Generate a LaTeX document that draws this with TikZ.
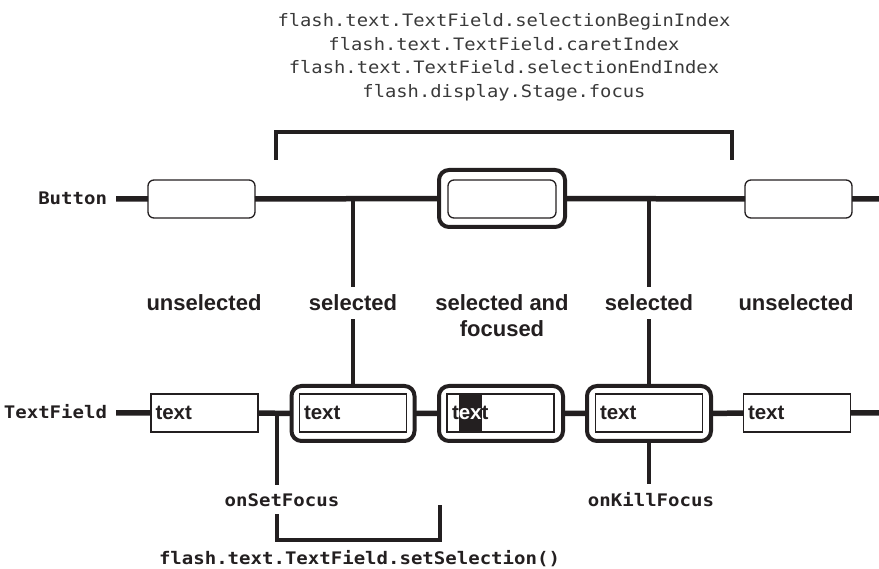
\documentclass[tikz,border=0pt]{standalone}
\usepackage{fontspec}
\setmainfont{Liberation Sans}
\newfontfamily\codefont[FakeStretch=1.1]{DejaVu Sans Mono}
\usetikzlibrary{backgrounds}
\definecolor{ink}{HTML}{231F20}
\definecolor{note}{HTML}{3A3A3A}

\begin{document}
\begin{tikzpicture}[x=1pt,y=-1pt,
  every node/.style={inner sep=0pt, outer sep=0pt},
  track/.style={draw=ink, line width=5.5pt},
  stem/.style={draw=ink, line width=4pt},
  brace/.style={draw=ink, line width=4pt},
  btnbox/.style={draw=ink, line width=1.3pt, rounded corners=6pt,
    minimum width=107pt, minimum height=38pt},
  fieldbox/.style={draw=ink, line width=1.3pt, minimum height=38pt,
    text width=98pt, inner xsep=4.5pt, align=left,
    font=\fontsize{20.5}{24}\selectfont\bfseries, text=ink},
  ring/.style={draw=ink, line width=4pt, rounded corners=10pt},
  code/.style={font=\codefont\fontsize{17.3}{20}\selectfont\bfseries, text=ink},
  event/.style={code, inner ysep=8pt},
  api/.style={font=\codefont\fontsize{17.1}{20}\selectfont, text=note},
  state/.style={font=\fontsize{22}{26}\selectfont\bfseries, text=ink,
    align=center, inner ysep=8pt},
  fieldtext/.style={font=\fontsize{20.5}{24}\selectfont\bfseries, text=ink},
]
\useasboundingbox (0,0) rectangle (879,569);

% property list and its bracket
\node[api, anchor=base] (p1) at (504,27) {flash.text.TextField.selectionBeginIndex};
\node[api, anchor=base] (p2) at (504,50.5) {flash.text.TextField.caretIndex};
\node[api, anchor=base] (p3) at (504,74) {flash.text.TextField.selectionEndIndex};
\node[api, anchor=base] (p4) at (504,97.5) {flash.display.Stage.focus};
\coordinate (tbl) at (276,160);
\coordinate (tbr) at (732,160);
\coordinate (tbtop) at (504,132);
\draw[brace] (tbl) |- (tbtop) -| (tbr);

% Button row
\node[code, anchor=base east] (btn) at (107,205) {Button};
\coordinate (bstart) at (116,199);
\coordinate (bend) at (879,199);
\node[btnbox] (bb1) at (201.5,199) {};
\node[ring, minimum width=126pt, minimum height=57pt] (bb2) at (502,198.5) {};
\node[btnbox, minimum width=108pt] (bb2i) at (502,199) {};
\node[btnbox] (bb3) at (798.5,199) {};
\draw[track] (bstart) -- (bb1.west) (bb1.east) -- (bb2.west)
  (bb2.east) -- (bb3.west) (bb3.east) -- (bend);

% state labels (a two-line node sits on its last baseline)
\node[state, anchor=base] (st1) at (204,311) {unselected};
\node[state, anchor=base] (st2) at (353,311) {selected};
\node[state, anchor=base] (st3) at (502,337) {selected and\\focused};
\node[state, anchor=base] (st4) at (649,311) {selected};
\node[state, anchor=base] (st5) at (796,311) {unselected};

% TextField row
\node[code, anchor=base east] (tf) at (107,419) {TextField};
\coordinate (tstart) at (116,413);
\coordinate (tend) at (879,413);
\node[fieldbox] (tb1) at (204.5,413) {text};
\node[ring, minimum width=123pt, minimum height=55pt] (tb2) at (353,413.5) {};
\node[fieldbox] (tb2i) at (353,413) {text};
\node[ring, minimum width=124pt, minimum height=55pt] (tb3) at (501,413.5) {};
\node[draw=ink, line width=1.3pt, minimum width=107pt, minimum height=38pt] (tb3i) at (500.5,413) {};
\node[ring, minimum width=124pt, minimum height=55pt] (tb4) at (649,413.5) {};
\node[fieldbox] (tb4i) at (649,413) {text};
\node[fieldbox] (tb5) at (797,413) {text};
\draw[track] (tstart) -- (tb1.west) (tb1.east) -- (tb2.west)
  (tb2.east) -- (tb3.west) (tb3.east) -- (tb4.west)
  (tb4.east) -- (tb5.west) (tb5.east) -- (tend);

% text with the selected letters highlighted
\node[fieldtext, anchor=base west] (hl1) at (452,420) {t};
\node[fieldtext, anchor=base west, text=white] (hl2) at (hl1.base east) {ex};
\node[fieldtext, anchor=base west] (hl3) at (hl2.base east) {t};
\begin{pgfonlayer}{background}
  \fill[ink] (hl2.west |- tb3i.north) rectangle (hl2.east |- tb3i.south);
\end{pgfonlayer}

% links between rows and labels
\coordinate (j1) at (353,199);
\coordinate (j2) at (649,199);
\draw[stem] (j1) -- (st2.north);
\draw[stem] (st2.south) -- (st2.south |- tb2.north);
\draw[stem] (j2) -- (st4.north);
\draw[stem] (st4.south) -- (st4.south |- tb4.north);

% focus events
\coordinate (j3) at (277,413);
\node[event, anchor=base] (osf) at (282,506) {onSetFocus};
\draw[stem] (j3) -- (j3 |- osf.north);
\coordinate (brk) at (277,540);
\coordinate (brkend) at (440,505);
\draw[brace] (osf.south -| brk) -- (brk) -| (brkend);
\node[code, anchor=base] (setsel) at (359.5,564) {flash.text.TextField.setSelection()};

\node[event, anchor=base] (okf) at (651,506) {onKillFocus};
\draw[stem] (tb4.south) -- (tb4.south |- okf.north);
\end{tikzpicture}
\end{document}
